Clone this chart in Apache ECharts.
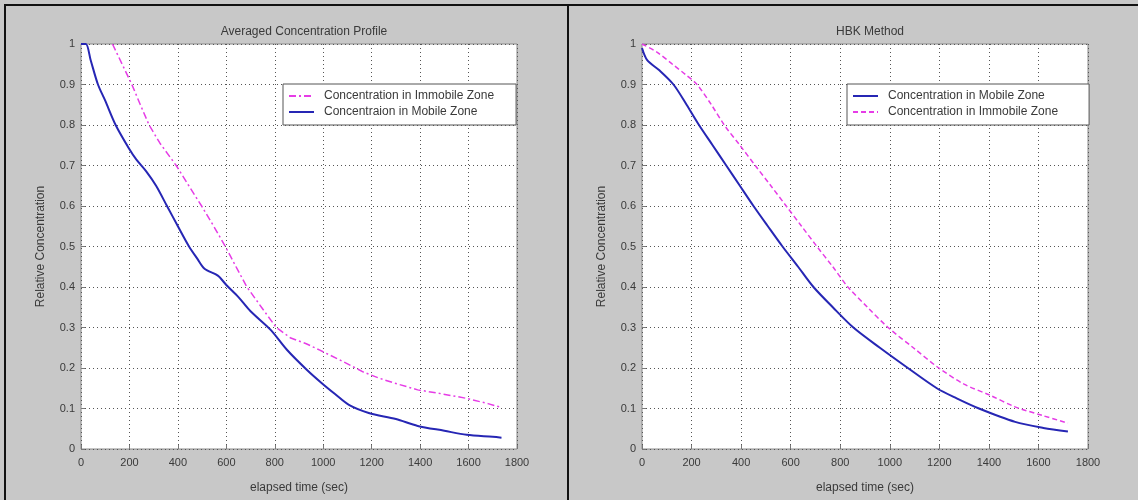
<!DOCTYPE html>
<html>
<head>
<meta charset="utf-8">
<title>Concentration profiles</title>
<script src="https://cdn.jsdelivr.net/npm/echarts@6/dist/echarts.min.js"></script>
<style>
  html, body { margin: 0; padding: 0; background: #c8c8c8; }
  #main { width: 1138px; height: 500px; }
</style>
</head>
<body>
<div id="main"></div>
<script>
  // [elapsed time (sec), relative concentration]
  var leftMobile = [[0,1],[20,1],[40,0.96],[70,0.9],[100,0.86],[143,0.8],[200,0.74],[228,0.715],[270,0.685],
    [310,0.65],[355,0.6],[400,0.55],[446,0.5],[480,0.47],[510,0.445],[565,0.428],[600,0.405],[650,0.375],
    [700,0.34],[783,0.294],[850,0.245],[933,0.195],[993,0.163],[1050,0.135],[1106,0.109],[1188,0.089],
    [1300,0.074],[1390,0.057],[1500,0.045],[1592,0.035],[1700,0.03],[1736,0.028]];
  var leftImmobile = [[130,1],[170,0.95],[210,0.9],[245,0.85],[281,0.8],[326,0.755],[393,0.7],[445,0.65],
    [498,0.6],[548,0.55],[596,0.5],[640,0.45],[685,0.4],[745,0.35],[806,0.3],[866,0.274],[930,0.26],
    [986,0.244],[1068,0.22],[1166,0.19],[1230,0.175],[1293,0.163],[1390,0.146],[1473,0.138],[1592,0.125],
    [1680,0.112],[1728,0.104]];
  var rightMobile = [[0,0.99],[21,0.96],[70,0.935],[127,0.9],[180,0.85],[230,0.8],[285,0.75],[340,0.7],
    [395,0.65],[450,0.6],[508,0.55],[567,0.5],[630,0.45],[692,0.4],[770,0.35],[853,0.3],[960,0.25],
    [1073,0.2],[1190,0.15],[1270,0.125],[1360,0.1],[1506,0.067],[1620,0.052],[1719,0.043]];
  var rightImmobile = [[0,1],[60,0.98],[127,0.948],[175,0.925],[222,0.9],[280,0.85],[332,0.8],[395,0.75],
    [457,0.7],[520,0.65],[582,0.6],[644,0.55],[706,0.5],[770,0.45],[831,0.4],[910,0.35],[993,0.3],
    [1095,0.25],[1198,0.2],[1300,0.16],[1404,0.133],[1506,0.104],[1620,0.082],[1719,0.064]];

  var titles = ['Averaged Concentration Profile', 'HBK Method'];
  var xName = 'elapsed time (sec)';
  var yName = 'Relative Concentration';

  var blue = '#2626b4';
  var magenta = '#e63ce6';
  var txt = '#3a3a3a';
  var font = 'Liberation Sans, Arial, sans-serif';

  function xAx(idx) {
    return {
      type: 'value', gridIndex: idx, min: 0, max: 1800, interval: 200,
      name: xName, nameLocation: 'middle', nameGap: 33,
      nameTextStyle: { color: txt, fontSize: 12, fontFamily: font },
      axisLine: { show: false },
      axisTick: { inside: true, length: 4, lineStyle: { color: '#777' } },
      axisLabel: { color: txt, fontSize: 11, fontFamily: font, margin: 8,
        formatter: function (v) { return String(v); } },
      splitLine: { show: true, lineStyle: { type: [1, 3], color: '#555' } }
    };
  }
  function yAx(idx) {
    return {
      type: 'value', gridIndex: idx, min: 0, max: 1, interval: 0.1,
      name: yName, nameLocation: 'middle', nameGap: 34,
      nameTextStyle: { color: txt, fontSize: 12, fontFamily: font },
      axisLine: { show: false },
      axisTick: { inside: true, length: 4, lineStyle: { color: '#777' } },
      axisLabel: { color: txt, fontSize: 11, fontFamily: font, margin: 6,
        formatter: function (v) { return +v.toFixed(1) + ''; } },
      splitLine: { show: true, lineStyle: { type: [1, 3], color: '#555' } }
    };
  }
  function legendBox(left, rightPad, items) {
    return {
      left: left, top: 84, orient: 'vertical',
      backgroundColor: '#fff', borderColor: '#555', borderWidth: 1,
      padding: [6, rightPad, 7, 5], itemWidth: 25, itemHeight: 14, itemGap: 4,
      itemStyle: { opacity: 0 },
      textStyle: { color: txt, fontSize: 12, fontFamily: font, padding: [0, 0, 0, 5] },
      data: items
    };
  }

  var option = {
    backgroundColor: '#c8c8c8',
    animation: false,
    title: [
      { text: titles[0], left: 299, top: 21, textAlign: 'center',
        textStyle: { color: txt, fontSize: 12, fontWeight: 'normal', fontFamily: font } },
      { text: titles[1], left: 865, top: 21, textAlign: 'center',
        textStyle: { color: txt, fontSize: 12, fontWeight: 'normal', fontFamily: font } }
    ],
    grid: [
      { left: 81, top: 44, width: 436, height: 405, show: true, backgroundColor: '#fff',
        borderColor: '#8a8a8a', borderWidth: 1 },
      { left: 642, top: 44, width: 446, height: 405, show: true, backgroundColor: '#fff',
        borderColor: '#8a8a8a', borderWidth: 1 }
    ],
    xAxis: [xAx(0), xAx(1)],
    yAxis: [yAx(0), yAx(1)],
    legend: [
      legendBox(283, 22, [
        { name: 'Concentration in Immobile Zone', lineStyle: { type: [7, 3, 2, 3] } },
        { name: 'Concentraion in Mobile Zone' }
      ]),
      legendBox(847, 31, [
        { name: 'Concentration in Mobile Zone' },
        { name: 'Concentration in Immobile Zone', lineStyle: { type: [5, 3] } }
      ])
    ],
    graphic: [
      { type: 'rect', shape: { x: 4, y: 4, width: 1134, height: 2 }, style: { fill: '#111' } },
      { type: 'rect', shape: { x: 4, y: 4, width: 2, height: 496 }, style: { fill: '#111' } },
      { type: 'rect', shape: { x: 567, y: 4, width: 2, height: 496 }, style: { fill: '#111' } }
    ],
    series: [
      { name: 'Concentration in Immobile Zone', type: 'line', xAxisIndex: 0, yAxisIndex: 0,
        symbol: 'none', data: leftImmobile, color: magenta,
        lineStyle: { color: magenta, width: 1.5, type: [7, 3, 2, 3] } },
      { name: 'Concentraion in Mobile Zone', type: 'line', xAxisIndex: 0, yAxisIndex: 0,
        symbol: 'none', data: leftMobile, color: blue, smooth: 0.3,
        lineStyle: { color: blue, width: 2 } },
      { name: 'Concentration in Mobile Zone', type: 'line', xAxisIndex: 1, yAxisIndex: 1,
        symbol: 'none', data: rightMobile, color: blue, smooth: 0.3,
        lineStyle: { color: blue, width: 2 } },
      { name: 'Concentration in Immobile Zone', type: 'line', xAxisIndex: 1, yAxisIndex: 1,
        symbol: 'none', data: rightImmobile, color: magenta, smooth: 0.3,
        lineStyle: { color: magenta, width: 1.5, type: [5, 3] } }
    ]
  };

  var myChart = echarts.init(document.getElementById('main'));
  myChart.setOption(option);
</script>
</body>
</html>
